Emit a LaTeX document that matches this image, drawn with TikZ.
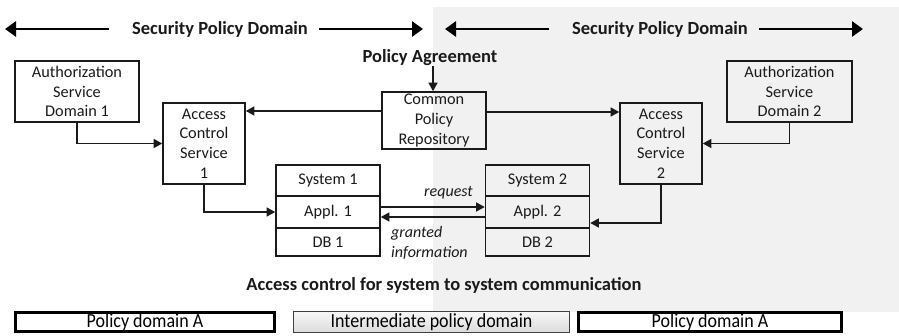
\documentclass[tikz,border=0pt]{standalone}
\usepackage{fontspec}
\setmainfont{Carlito}
\usetikzlibrary{arrows.meta,calc}
\definecolor{zonegray}{HTML}{F1F1F1}
\definecolor{inkblack}{HTML}{1A1A1A}
\begin{document}
\begin{tikzpicture}[x=1pt,y=-1pt,
  txt/.style={font=\fontsize{16.3}{19.6}\selectfont, text=inkblack},
  head/.style={font=\fontsize{18.5}{20}\selectfont\bfseries, text=inkblack, inner sep=0pt},
  box/.style={draw=inkblack, line width=1.6pt, align=center, inner sep=0pt, txt},
  conn/.style={draw=inkblack, line width=1.3pt, -{Triangle[length=8.5pt,width=9pt]}},
  span/.style={draw=black, line width=2.8pt, -{Triangle[length=11pt,width=15pt]}},
  lbl/.style={font=\fontsize{16}{19.5}\selectfont\itshape, text=inkblack, inner sep=0pt},
  domA/.style={draw=black, line width=3.2pt, fill=white, minimum height=19pt, inner sep=0pt,
    font=\fontsize{20}{20}\selectfont},
  domI/.style={draw=black!75, line width=0.9pt, top color=gray!6, bottom color=gray!28,
    minimum height=21pt, inner sep=0pt, font=\fontsize{20}{20}\selectfont}
]
\useasboundingbox (0,0) rectangle (899,335);
% shaded zone of the second security domain
\fill[zonegray] (433,7) rectangle (899,312);

% domain headings with their span arrows
\node[head] (spd1) at (220,29) {Security Policy Domain};
\node[head] (spd2) at (660,29) {Security Policy Domain};
\coordinate (spd1l) at (5,29);
\coordinate (spd1r) at (423,29);
\coordinate (spd2l) at (445,29);
\coordinate (spd2r) at (863,29);
\draw[span] ([xshift=-23pt]spd1.west) -- (spd1l);
\draw[span] ([xshift=11pt]spd1.east) -- (spd1r);
\draw[span] ([xshift=-23pt]spd2.west) -- (spd2l);
\draw[span] ([xshift=11pt]spd2.east) -- (spd2r);

% services
\node[head] (agree) at (430,58) {Policy Agreement};
\node[box, minimum width=124pt, minimum height=61pt] (auth1) at (77,91.5)
  {Authorization\\Service\\Domain 1};
\node[box, minimum width=82pt, minimum height=81pt] (acs1) at (204,143.5)
  {Access\\Control\\Service\\1};
\node[box, minimum width=104pt, minimum height=57pt] (cpr) at (434,120.5)
  {Common\\Policy\\Repository};
\node[box, minimum width=82pt, minimum height=81pt] (acs2) at (661,143.5)
  {Access\\Control\\Service\\2};
\node[box, minimum width=125pt, minimum height=61pt] (auth2) at (789.5,91.5)
  {Authorization\\Service\\Domain 2};

% systems
\node[box, minimum width=104pt, minimum height=31pt] (sys1) at (328,180.5) {System 1};
\node[box, minimum width=104pt, minimum height=32pt] (app1) at (328,212) {Appl. 1};
\node[box, minimum width=104pt, minimum height=28pt] (db1) at (328,242) {DB 1};
\node[box, minimum width=104pt, minimum height=31pt] (sys2) at (537.5,180.5) {System 2};
\node[box, minimum width=104pt, minimum height=32pt] (app2) at (537.5,212) {Appl. 2};
\node[box, minimum width=104pt, minimum height=28pt] (db2) at (537.5,242) {DB 2};

% connectors
\draw[conn] ([xshift=3pt]agree.south) -- ([xshift=3pt]agree.south |- cpr.north);
\draw[conn] ([yshift=9.5pt]cpr.west) -- ([yshift=9.5pt]cpr.west -| acs1.east);
\draw[conn] ([yshift=8.5pt]cpr.east) -- ([yshift=8.5pt]cpr.east -| acs2.west);
\draw[conn] (auth1.south) |- (acs1.west);
\draw[conn] (auth2.south) |- (acs2.east);
\draw[conn] (acs1.south) |- (app1.west);
\draw[conn] (acs2.south) |- ([yshift=-11pt]app2.east);
\draw[conn] ([yshift=5pt]app1.east) -- ([yshift=5pt]app1.east -| app2.west);
\draw[conn] ([yshift=-5pt]app2.west) -- ([yshift=-5pt]app2.west -| app1.east);
\node[lbl, anchor=east] (req) at (473,193) {request};
\node[lbl, anchor=west, align=left] (grant) at (391,243) {granted\\information};

% caption and domain legend
\node[head] (cap) at (444,285) {Access control for system to system communication};
\node[domA, minimum width=259pt] (legA1) at (145,322) {\scalebox{0.9}[1]{Policy domain A}};
\node[domI, minimum width=276pt] (legI) at (431.5,322) {\scalebox{0.9}[1]{Intermediate policy domain}};
\node[domA, minimum width=263pt] (legA2) at (710,322) {\scalebox{0.9}[1]{Policy domain A}};
\end{tikzpicture}
\end{document}
